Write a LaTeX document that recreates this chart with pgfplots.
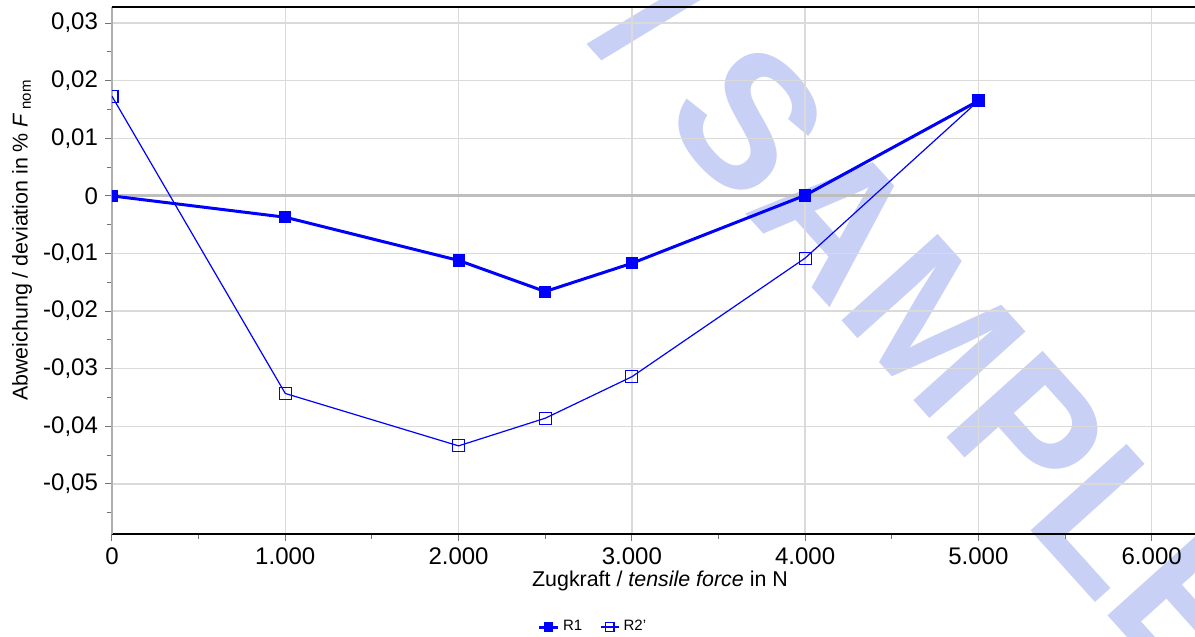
\documentclass[border=0pt]{standalone}
\usepackage{fontspec}
\setmainfont{Liberation Sans}
\usepackage{pgfplots}
\pgfplotsset{compat=1.18}
\definecolor{wm}{RGB}{200,209,245}
\definecolor{gridc}{RGB}{218,218,218}
\definecolor{zeroc}{RGB}{190,190,190}
\definecolor{leftc}{RGB}{175,175,175}
\begin{document}
\begin{tikzpicture}
% watermark
\node[rotate=-48, anchor=base, text=wm, font=\fontsize{94}{94}\selectfont\bfseries] at (387pt,82pt) {/ SAMPLE};
\begin{axis}[
  at={(0pt,0pt)}, anchor=south west,
  scale only axis, width=541.5pt, height=263.5pt,
  xmin=0, xmax=6250, ymin=-0.0587, ymax=0.0328,
  axis x line*=bottom, axis y line*=left,
  x axis line style={black, line width=1.3pt, -},
  y axis line style={leftc, line width=1.3pt, -},
  xtick={0,1000,2000,3000,4000,5000,6000},
  xticklabels={0,1.000,2.000,3.000,4.000,5.000,6.000},
  minor xtick={500,1500,2500,3500,4500,5500},
  ytick={-0.05,-0.04,-0.03,-0.02,-0.01,0,0.01,0.02,0.03},
  yticklabels={{-0,05},{-0,04},{-0,03},{-0,02},{-0,01},{0},{0,01},{0,02},{0,03}},
  minor ytick={-0.055,-0.045,-0.035,-0.025,-0.015,-0.005,0.005,0.015,0.025},
  tick align=outside,
  major tick length=3.5pt, minor tick length=2.5pt,
  tick style={black!55, line width=0.5pt},
  grid=major, major grid style={gridc, line width=0.75pt},
  tick label style={font=\fontsize{12}{14}\selectfont},
  xlabel={Zugkraft / \textit{tensile force} in N},
  ylabel={Abweichung / deviation in \% \textit{F}\,\textsubscript{nom}},
  every axis x label/.style={at={(axis description cs:0.506,-0.0892)}, anchor=center, font=\fontsize{10.7}{12}\selectfont},
  every axis y label/.style={at={(axis description cs:-0.0831,0.558)}, anchor=center, rotate=90, font=\fontsize{10.7}{12}\selectfont},
  legend style={at={(axis description cs:0.445,-0.1765)}, anchor=center, draw=none, fill=none, font=\fontsize{7.5}{9}\selectfont, inner sep=1pt},
  legend columns=2,
  legend image code/.code={\draw[mark repeat=2, mark phase=2, mark size=2.1pt] plot coordinates {(0cm,0cm) (0.16cm,0cm) (0.32cm,0cm)};},
  /tikz/every even column/.append style={column sep=7pt},
  clip marker paths=true,
]
\draw[zeroc, line width=1.5pt] (axis cs:0,0) -- (axis cs:6250,0);
\draw[black, line width=0.6pt] (rel axis cs:0,1) -- (rel axis cs:1,1);
\addplot[color=blue, line width=1.5pt, mark=square*, mark size=2.8pt, mark options={solid, line width=0.4pt}]
coordinates {(0,0) (1000,-0.0037) (2000,-0.0112) (2500,-0.0166) (3000,-0.0117) (4000,0.0001) (5000,0.0165)};
\addlegendentry{R1}
\addplot[color=blue, line width=0.6pt, mark=square, mark size=3pt, mark options={solid, line width=0.6pt}]
coordinates {(0,0.0173) (1000,-0.0343) (2000,-0.0434) (2500,-0.0386) (3000,-0.0314) (4000,-0.0108) (5000,0.0165)};
\addlegendentry{R2'}
\end{axis}
\pgfresetboundingbox
\useasboundingbox (-56pt,-51.5pt) rectangle (541.5pt,267pt);
\end{tikzpicture}
\end{document}
